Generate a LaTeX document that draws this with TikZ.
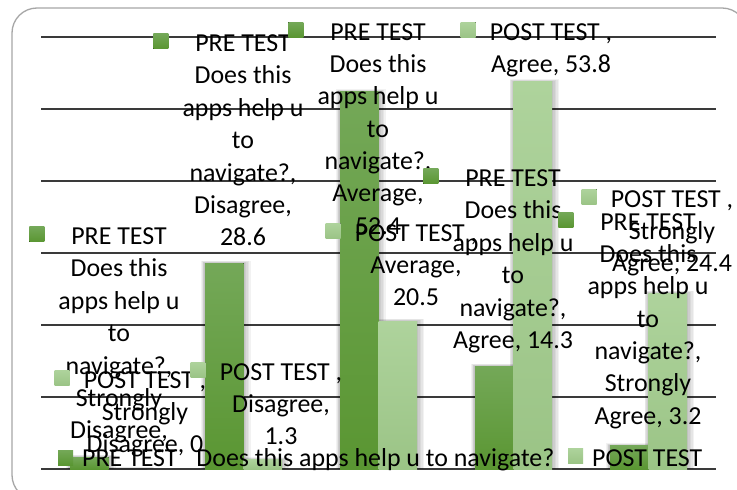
\documentclass[tikz,border=0pt]{standalone}
\usepackage{fontspec}
\setmainfont{Carlito}
\usetikzlibrary{calc}
\definecolor{preTop}{HTML}{74A858}
\definecolor{preBot}{HTML}{5A9632}
\definecolor{postTop}{HTML}{AED39C}
\definecolor{postBot}{HTML}{9BC486}
\definecolor{frameC}{HTML}{A6A6A6}
\definecolor{gridC}{HTML}{3A3A3A}
\begin{document}
\begin{tikzpicture}[x=1bp,y=-1bp,
  lbl/.style={font=\fontsize{26}{32.5}\selectfont, align=center, inner sep=0pt, anchor=north, text=black},
  legtext/.style={font=\fontsize{26}{32.5}\selectfont, inner sep=0pt, anchor=base west, text=black},
  premark/.style={top color=preTop, bottom color=preBot, draw=none},
  postmark/.style={top color=postTop, bottom color=postBot, draw=none},
  gridline/.style={draw=gridC, line width=1.1bp},
  barshadow/.style={fill=black, opacity=0.05}]
\useasboundingbox (0,0) rectangle (737,490);
\fill[white] (0,0) rectangle (737,490);
\begin{scope}
  \clip (0,0) rectangle (737,490);
  \draw[frameC, line width=1.3bp, rounded corners=25bp] (12,8) rectangle (747,500);
\end{scope}
% grid
\foreach \k in {0,...,6} {
  \draw[gridline] (41,469-72*\k) -- (716,469-72*\k);
}
% bars
\foreach \i/\pre/\post in {0/1.6/0, 1/28.6/1.3, 2/52.4/20.5, 3/14.3/53.8, 4/3.2/24.4} {
  \pgfmathsetmacro{\c}{108.5+135*\i}
  \pgfmathsetmacro{\ptop}{469-7.2*\pre}
  \pgfmathsetmacro{\qtop}{469-7.2*\post}
  \foreach \s in {1,2,3,4,5} {
    \fill[barshadow] (\c-38.5-\s*0.8,\ptop-\s*0.5) rectangle (\c+\s*1.4,469);
    \fill[barshadow] (\c-\s*0.8,\qtop-\s*0.5) rectangle (\c+38.5+\s*1.4,469);
  }
  \fill[premark] (\c-38.5,\ptop) rectangle (\c,469);
  \fill[postmark] (\c,\qtop) rectangle (\c+38.5,469);
}
% labels
\node[lbl] (lA) at (243,43-14.35) {\strut PRE TEST\\Does this\\apps help u\\to\\navigate?,\\Disagree,\\28.6};
\fill[premark] ($(lA.north west)+(-29,5)$) rectangle ++(15,15);
\node[lbl] (lB) at (378,31.5-14.35) {\strut PRE TEST\\Does this\\apps help u\\to\\navigate?,\\Average,\\52.4};
\fill[premark] ($(lB.north west)+(-29,5)$) rectangle ++(15,15);
\node[lbl] (lC) at (551,31.5-14.35) {\strut POST TEST ,\\Agree, 53.8};
\fill[postmark] ($(lC.north west)+(-29,5)$) rectangle ++(15,15);
\node[lbl] (lD) at (513,178-14.35) {\strut PRE TEST\\Does this\\apps help u\\to\\navigate?,\\Agree, 14.3};
\fill[premark] ($(lD.north west)+(-29,5)$) rectangle ++(15,15);
\node[lbl] (lE) at (416,232.5-14.35) {\strut POST TEST ,\\Average,\\20.5};
\fill[postmark] ($(lE.north west)+(-29,5)$) rectangle ++(15,15);
\node[lbl] (lF) at (672,198.5-14.35) {\strut POST TEST ,\\Strongly\\Agree, 24.4};
\fill[postmark] ($(lF.north west)+(-29,5)$) rectangle ++(15,15);
\node[lbl] (lG) at (648,221.5-14.35) {\strut PRE TEST\\Does this\\apps help u\\to\\navigate?,\\Strongly\\Agree, 3.2};
\fill[premark] ($(lG.north west)+(-29,5)$) rectangle ++(15,15);
\node[lbl] (lH) at (119,236-14.35) {\strut PRE TEST\\Does this\\apps help u\\to\\navigate?,\\Strongly\\Disagree,};
\fill[premark] ($(lH.north west)+(-29,5)$) rectangle ++(15,15);
\node[lbl] (lI) at (145,379.5-14.35) {\strut POST TEST ,\\Strongly\\Disagree, 0};
\fill[postmark] ($(lI.north west)+(-29,5)$) rectangle ++(15,15);
\node[lbl] (lJ) at (281,371.5-14.35) {\strut POST TEST ,\\Disagree,\\1.3};
\fill[postmark] ($(lJ.north west)+(-29,5)$) rectangle ++(15,15);
% legend
\fill[premark] (58,450) rectangle (73,465);
\node[legtext] (legPre) at (82,466.4) {PRE TEST\hspace{19bp}Does this apps help u to navigate?};
\fill[postmark] (568,448) rectangle (583,463);
\node[legtext] (legPost) at (592,466.4) {POST TEST};
\end{tikzpicture}
\end{document}
